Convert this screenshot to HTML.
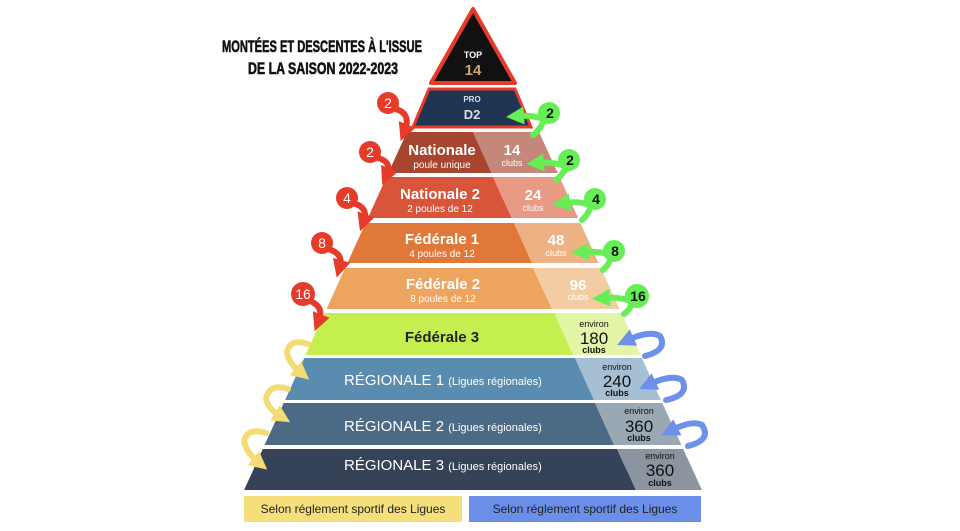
<!DOCTYPE html>
<html><head><meta charset="utf-8"><style>
html,body{margin:0;padding:0;background:#fff;width:960px;height:531px;overflow:hidden}
svg{display:block}
text{font-family:"Liberation Sans",sans-serif}
</style></head><body>
<svg width="960" height="531" viewBox="0 0 960 531">
<defs>
<marker id="mr" markerWidth="3" markerHeight="3" refX="1" refY="1.5" orient="auto" markerUnits="strokeWidth"><path d="M0,0 L3,1.5 L0,3 Z" fill="#e63a2a"/></marker>
<marker id="mg" markerWidth="3" markerHeight="3" refX="1" refY="1.5" orient="auto" markerUnits="strokeWidth"><path d="M0,0 L3,1.5 L0,3 Z" fill="#66ee55"/></marker>
<marker id="mb" markerWidth="3" markerHeight="3" refX="1" refY="1.5" orient="auto" markerUnits="strokeWidth"><path d="M0,0 L3,1.5 L0,3 Z" fill="#6d90ea"/></marker>
<marker id="my" markerWidth="3" markerHeight="3" refX="1" refY="1.5" orient="auto" markerUnits="strokeWidth"><path d="M0,0 L3,1.5 L0,3 Z" fill="#f3dc74"/></marker>
</defs>

<!-- Title -->
<text x="322" y="52" text-anchor="middle" font-size="17" font-weight="bold" stroke="#111" stroke-width="0.6" textLength="200" lengthAdjust="spacingAndGlyphs" fill="#111">MONTÉES ET DESCENTES À L'ISSUE</text>
<text x="323" y="74" text-anchor="middle" font-size="17" font-weight="bold" stroke="#111" stroke-width="0.6" textLength="150" lengthAdjust="spacingAndGlyphs" fill="#111">DE LA SAISON 2022-2023</text>

<!-- Top 14 -->
<polygon points="473,9 431,83 515,83" fill="#111" stroke="#e63a2a" stroke-width="4" stroke-linejoin="round"/>
<text x="473" y="58" text-anchor="middle" font-size="9" font-weight="bold" fill="#fff">TOP</text>
<text x="473" y="75" text-anchor="middle" font-size="15" font-weight="bold" fill="#c9a66b">14</text>
<!-- Pro D2 -->
<polygon points="429,89 515,89 531,127 413,127" fill="#1f3552" stroke="#e63a2a" stroke-width="3"/>
<text x="472" y="102" text-anchor="middle" font-size="8" font-weight="bold" fill="#dde">PRO</text>
<text x="472" y="119" text-anchor="middle" font-size="13" font-weight="bold" fill="#dde">D2</text>

<!-- Bands -->
<polygon points="407,132 473,132 491.5,173 388.3,173" fill="#a8452e"/>
<polygon points="473,132 539,132 557.7,173 491.5,173" fill="#c4877a"/>
<polygon points="386.5,177 493,177 511.7,218 367.9,218" fill="#d8553a"/>
<polygon points="493,177 559.5,177 578.1,218 511.7,218" fill="#e89a84"/>
<polygon points="365.6,223 514,223 532,263 347.4,263" fill="#e0783a"/>
<polygon points="514,223 580.4,223 598.6,263 532,263" fill="#eeb183"/>
<polygon points="345.1,268 533,268 552,309 326.5,309" fill="#eda45f"/>
<polygon points="533,268 600.9,268 619.5,309 552,309" fill="#f3cca4"/>
<polygon points="324.6,313 554.5,313 573,355 305.5,355" fill="#c5ee4f"/>
<polygon points="554.5,313 621.4,313 640.5,355 573,355" fill="#e3f5a6"/>
<polygon points="304.2,358 575,358 594,400 285.1,400" fill="#5a8caf"/>
<polygon points="575,358 641.8,358 660.9,400 594,400" fill="#a5c0d2"/>
<polygon points="283.7,403 595,403 614,445 264.6,445" fill="#4a6a85"/>
<polygon points="595,403 662.3,403 681.4,445 614,445" fill="#9aa8b3"/>
<polygon points="262.8,449 617,449 636,490 244.1,490" fill="#354258"/>
<polygon points="617,449 683.2,449 701.9,490 636,490" fill="#8b949f"/>

<!-- Legend -->
<rect x="244" y="496" width="218" height="26" fill="#f5df7b"/>
<rect x="469" y="496" width="232" height="26" fill="#6b8ee8"/>
<text x="353" y="513" text-anchor="middle" font-size="12" fill="#222">Selon réglement sportif des Ligues</text>
<text x="585" y="513" text-anchor="middle" font-size="12" fill="#222">Selon réglement sportif des Ligues</text>

<!-- Band labels -->
<g fill="#fff" text-anchor="middle" font-weight="bold">
<text x="442" y="155" font-size="15">Nationale</text>
<text x="512" y="155" font-size="15">14</text>
<text x="440" y="199" font-size="15">Nationale 2</text>
<text x="533" y="200" font-size="15">24</text>
<text x="442" y="244" font-size="15">Fédérale 1</text>
<text x="556" y="245" font-size="15">48</text>
<text x="443" y="289" font-size="15">Fédérale 2</text>
<text x="578" y="290" font-size="15">96</text>
</g>
<g fill="#fff" text-anchor="middle">
<text x="442" y="168" font-size="10">poule unique</text>
<text x="512" y="166" font-size="9">clubs</text>
<text x="440" y="212" font-size="10">2 poules de 12</text>
<text x="533" y="211" font-size="9">clubs</text>
<text x="442" y="257" font-size="10">4 poules de 12</text>
<text x="556" y="256" font-size="9">clubs</text>
<text x="443" y="302" font-size="10">8 poules de 12</text>
<text x="578" y="300" font-size="9">clubs</text>
</g>
<text x="442" y="342" text-anchor="middle" font-size="15" font-weight="bold" fill="#222">Fédérale 3</text>
<g fill="#fff">
<text x="344" y="385" font-size="15">RÉGIONALE 1 <tspan font-size="11">(Ligues régionales)</tspan></text>
<text x="344" y="431" font-size="15">RÉGIONALE 2 <tspan font-size="11">(Ligues régionales)</tspan></text>
<text x="344" y="470" font-size="15">RÉGIONALE 3 <tspan font-size="11">(Ligues régionales)</tspan></text>
</g>
<g fill="#111" text-anchor="middle">
<text x="594" y="327" font-size="9">environ</text>
<text x="594" y="344" font-size="17">180</text>
<text x="594" y="353" font-size="9" font-weight="bold">clubs</text>
<text x="617" y="370" font-size="9">environ</text>
<text x="617" y="387" font-size="17">240</text>
<text x="617" y="396" font-size="9" font-weight="bold">clubs</text>
<text x="639" y="414" font-size="9">environ</text>
<text x="639" y="432" font-size="17">360</text>
<text x="639" y="441" font-size="9" font-weight="bold">clubs</text>
<text x="660" y="459" font-size="9">environ</text>
<text x="660" y="476" font-size="17">360</text>
<text x="660" y="486" font-size="9" font-weight="bold">clubs</text>
</g>

<!-- Red arrows -->
<g stroke="#e63a2a" stroke-width="6" fill="none" stroke-linecap="round">
<path d="M392,108 Q412,112 405,130" marker-end="url(#mr)"/>
<path d="M373,157 Q393,160 387,174" marker-end="url(#mr)"/>
<path d="M349,202 Q369,206 364,220" marker-end="url(#mr)"/>
<path d="M324,248 Q344,252 340,266" marker-end="url(#mr)"/>
<path d="M305,299 Q325,305 319,320" marker-end="url(#mr)"/>
</g>
<g fill="#e63a2a"><circle cx="388" cy="103" r="11"/><circle cx="370" cy="152" r="11"/><circle cx="347" cy="198" r="11"/><circle cx="322" cy="243" r="11"/><circle cx="303" cy="294" r="12"/></g>
<g fill="#fff" text-anchor="middle" font-size="14"><text x="388" y="108">2</text><text x="370" y="157">2</text><text x="347" y="203">4</text><text x="322" y="248">8</text><text x="303" y="299">16</text></g>

<!-- Green arrows -->
<g stroke="#66ee55" stroke-width="6" fill="none" stroke-linecap="round">
<path d="M540,118 Q530,115 518,116" marker-end="url(#mg)"/><path d="M544,120 Q540,130 533,135"/>
<path d="M562,165 Q552,162 538,163" marker-end="url(#mg)"/><path d="M566,167 Q562,176 556,180"/>
<path d="M587,204 Q578,201 564,203" marker-end="url(#mg)"/><path d="M591,206 Q588,215 582,220"/>
<path d="M607,254 Q598,251 583,252" marker-end="url(#mg)"/><path d="M611,258 Q608,266 603,270"/>
<path d="M628,300 Q618,297 604,298" marker-end="url(#mg)"/><path d="M632,303 Q630,310 624,314"/>
</g>
<g fill="#66ee55"><circle cx="549" cy="113" r="11"/><circle cx="569" cy="160" r="11"/><circle cx="595" cy="199" r="11"/><circle cx="614" cy="251" r="11"/><circle cx="637" cy="296" r="12"/></g>
<g fill="#111" text-anchor="middle" font-size="14" font-weight="bold"><text x="550" y="118">2</text><text x="570" y="165">2</text><text x="596" y="204">4</text><text x="615" y="256">8</text><text x="638" y="301">16</text></g>

<!-- Blue arrows -->
<g stroke="#6d90ea" stroke-width="6" fill="none" stroke-linecap="round">
<path d="M645,356 Q668,350 660,336 Q650,330 628,340" marker-end="url(#mb)"/>
<path d="M666,400 Q690,395 682,380 Q672,374 650,384" marker-end="url(#mb)"/>
<path d="M688,446 Q712,440 702,425 Q692,420 672,430" marker-end="url(#mb)"/>
</g>
<!-- Yellow arrows -->
<g stroke="#f3dc74" stroke-width="6" fill="none" stroke-linecap="round">
<path d="M308,344 Q290,338 287,352 Q288,362 300,372" marker-end="url(#my)"/>
<path d="M288,389 Q270,383 266,398 Q267,408 280,416" marker-end="url(#my)"/>
<path d="M266,433 Q248,427 244,441 Q246,452 258,462" marker-end="url(#my)"/>
</g>
</svg>
</body></html>
